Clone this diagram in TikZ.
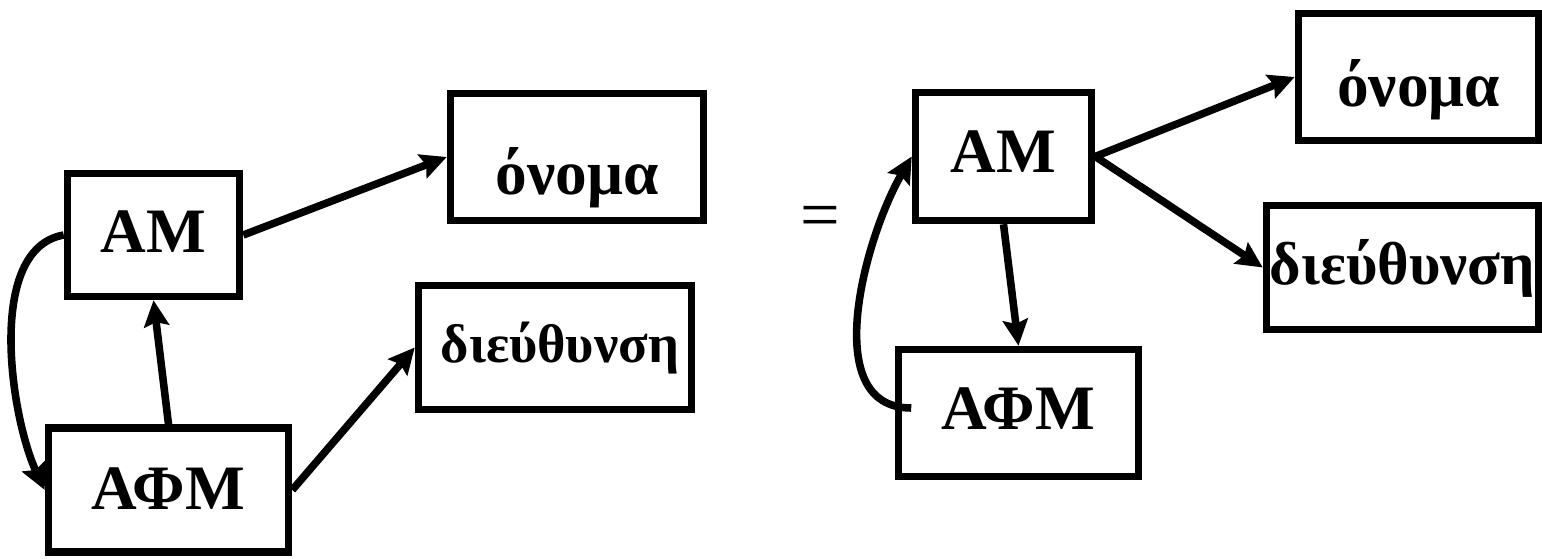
\documentclass[tikz,border=0pt]{standalone}
\usepackage{fontspec}
\setmainfont{Liberation Serif}
\usetikzlibrary{arrows.meta}

\begin{document}
\begin{tikzpicture}[
    entity/.style={draw,shape=rectangle,line width=4.3pt,inner sep=0pt,text depth=0pt,
                   font=\bfseries\fontsize{36}{40}\selectfont},
    link/.style={-{Stealth[length=0.52cm,width=0.5cm,inset=0.08cm]},line width=4.3pt}]
  \useasboundingbox (0,0) rectangle (30.84,11.18);

  % left hand side
  \node[entity,minimum width=3.44cm,minimum height=2.46cm,text height=0.72cm] (am)    at (3.07,6.48)  {ΑΜ};
  \node[entity,minimum width=4.8cm, minimum height=2.48cm,text height=0.8cm]  (afm)   at (3.37,1.38)  {ΑΦΜ};
  \node[entity,minimum width=5.06cm,minimum height=2.54cm,text height=1.52cm] (onoma) at (11.54,8.04) {όνομα};
  \node[entity,minimum width=5.46cm,minimum height=2.48cm,text height=0.62cm,
        font=\bfseries\fontsize{31}{36}\selectfont]                           (addr)  at (11.1,4.23)  {\hspace{0.2cm}διεύθυνση};

  \draw[link] (am.east)   -- (onoma.west);
  \draw[link] (afm.north) -- (am.south);
  \draw[link] (afm.east)  -- (addr.west);
  \draw[link] (am.west) to[out=190,in=115,looseness=0.8] (afm.west);

  \node (eq) at (16.4,6.74) {\fontsize{40}{44}\selectfont =};

  % right hand side
  \node[entity,minimum width=3.52cm,minimum height=2.56cm,text height=0.66cm] (am2)    at (20.07,8.05) {ΑΜ};
  \node[entity,minimum width=4.8cm, minimum height=2.54cm,text height=0.68cm] (afm2)   at (20.37,2.92) {ΑΦΜ};
  \node[entity,minimum width=4.8cm, minimum height=2.54cm,text height=1.2cm]  (onoma2) at (28.37,9.64) {όνομα};
  \node[entity,minimum width=5.44cm,minimum height=2.48cm,text height=0.7cm,
        font=\bfseries\fontsize{34.5}{38}\selectfont]                         (addr2)  at (28.05,5.83) {διεύθυνση};

  \draw[link] (am2.east)  -- (onoma2.west);
  \draw[link] (am2.east)  -- (addr2.west);
  \draw[link] (am2.south) -- (afm2.north);
  \draw[link] ([xshift=0.33cm,yshift=0.1cm]afm2.west) to[out=180,in=240,looseness=0.95] (am2.west);
\end{tikzpicture}
\end{document}
